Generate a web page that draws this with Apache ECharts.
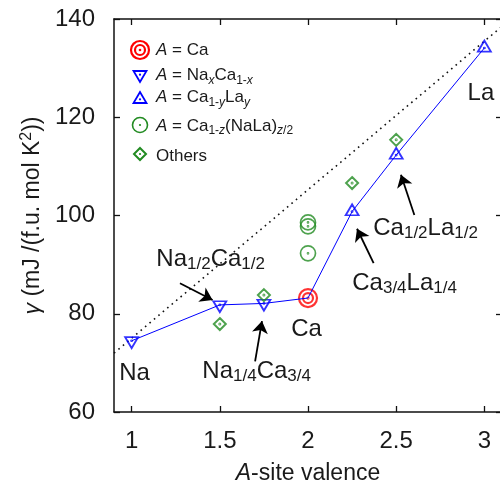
<!DOCTYPE html>
<html><head><meta charset="utf-8">
<script src="https://cdn.jsdelivr.net/npm/echarts@6/dist/echarts.min.js"></script>
<style>html,body{margin:0;padding:0;background:#fff}#c{width:500px;height:482px}</style>
</head><body><div id="c"></div>
<script>
const FONT = '"Liberation Sans", Arial, Helvetica, sans-serif';
const TXT = '#1a1a1a';

// ---- data ----
const naCaX = [1, 1.5, 1.75];
const naCaY = [74.5, 81.8, 82.1];
const caX = [2];
const caY = [83.2];
const caLaX = [2.25, 2.5, 3];
const caLaY = [100.8, 112.3, 134.1];
const caNaLaX = [2, 2, 2];
const caNaLaY = [98.6, 97.8, 92.3];
const othersX = [1.5, 1.75, 2.25, 2.5];
const othersY = [77.9, 83.8, 106.6, 115.4];
const refLineX = [0.9, 3.1];
const refLineY = [72.0, 138.5];
const xTicks = [1, 1.5, 2, 2.5, 3];
const yTicks = [60, 80, 100, 120, 140];

// annotations (text anchored at left/middle, data coords)
const annoText = [
  '{m|Na}',
  '{m|Na}{s|1/2}{m|Ca}{s|1/2}',
  '{m|Na}{s|1/4}{m|Ca}{s|3/4}',
  '{m|Ca}',
  '{m|Ca}{s|3/4}{m|La}{s|1/4}',
  '{m|Ca}{s|1/2}{m|La}{s|1/2}',
  '{m|La}'
];
const annoX = [0.930, 1.140, 1.401, 1.905, 2.251, 2.370, 2.905];
const annoY = [67.8, 91.1, 68.3, 76.8, 86.2, 97.4, 124.9];
// arrows
const arrFromX = [1.274, 1.700, 2.372, 2.603];
const arrFromY = [86.2, 70.3, 90.3, 100.1];
const arrToX = [1.459, 1.739, 2.278, 2.527];
const arrToY = [82.8, 78.5, 97.3, 108.3];

const zip = (xs, ys) => xs.map((x, i) => [x, ys[i]]);

// symbol paths (outline + centre dot)
const dot = (cx, cy) => `M${cx-0.5},${cy} a0.5,0.5 0 1,0 1,0 a0.5,0.5 0 1,0 -1,0`;
const P_DOWN = 'path://M0,0 L13,0 L6.5,11 Z ' + dot(6.5, 3.7);
const P_UP = 'path://M0,11 L6.5,0 L13,11 Z ' + dot(6.5, 7.3);
const P_TARGET = 'path://M1,10 a9,9 0 1,0 18,0 a9,9 0 1,0 -18,0 M5,10 a5,5 0 1,0 10,0 a5,5 0 1,0 -10,0 ' + dot(10, 10);
const P_CIRC = 'path://M0,7.5 a7.5,7.5 0 1,0 15,0 a7.5,7.5 0 1,0 -15,0 ' + dot(7.5, 7.5);
const P_DIAM = 'path://M6,0 L12,6 L6,12 L0,6 Z ' + dot(6, 6);

const RED = '#ff0000', BLUE = '#0000ff', GREEN = '#228b22';
const hollow = (c, w) => ({ color: 'rgba(0,0,0,0)', borderColor: c, borderWidth: w });

const chart = echarts.init(document.getElementById('c'), null, { renderer: 'canvas' });

const legendRows = [
  { y: 50.5, t: '{i|A}{n| = Ca}' },
  { y: 75.5, t: '{i|A}{n| = Na}{si|x}{n|Ca}{s|1-}{si|x}' },
  { y: 97.5, t: '{i|A}{n| = Ca}{s|1-}{si|y}{n|La}{si|y}' },
  { y: 126, t: '{i|A}{n| = Ca}{s|1-}{si|z}{n|(NaLa)}{si|z}{s|/2}' },
  { y: 156, t: '{n|Others}' }
];
const legRich = {
  n: { fontSize: 17, fontFamily: FONT, color: TXT, lineHeight: 22 },
  i: { fontSize: 17, fontFamily: FONT, color: TXT, fontStyle: 'italic', lineHeight: 22 },
  s: { fontSize: 12, fontFamily: FONT, color: TXT, lineHeight: 12, verticalAlign: 'bottom' },
  si: { fontSize: 12, fontFamily: FONT, color: TXT, fontStyle: 'italic', lineHeight: 12, verticalAlign: 'bottom' }
};
const LX = 140;
const graphics = [
  { type: 'circle', shape: { cx: LX, cy: 50, r: 9 }, style: { fill: 'none', stroke: RED, lineWidth: 2.2 } },
  { type: 'circle', shape: { cx: LX, cy: 50, r: 5 }, style: { fill: 'none', stroke: RED, lineWidth: 2.2 } },
  { type: 'circle', shape: { cx: LX, cy: 50, r: 1.3 }, style: { fill: RED } },
  { type: 'polygon', shape: { points: [[LX-6.5, 71], [LX+6.5, 71], [LX, 82]] }, style: { fill: 'none', stroke: BLUE, lineWidth: 1.8 } },
  { type: 'circle', shape: { cx: LX, cy: 74.7, r: 1.1 }, style: { fill: BLUE } },
  { type: 'polygon', shape: { points: [[LX-6.5, 103], [LX+6.5, 103], [LX, 92]] }, style: { fill: 'none', stroke: BLUE, lineWidth: 1.8 } },
  { type: 'circle', shape: { cx: LX, cy: 99.3, r: 1.1 }, style: { fill: BLUE } },
  { type: 'circle', shape: { cx: LX, cy: 125, r: 7.5 }, style: { fill: 'none', stroke: GREEN, lineWidth: 1.6 } },
  { type: 'circle', shape: { cx: LX, cy: 125, r: 1.1 }, style: { fill: GREEN } },
  { type: 'polygon', shape: { points: [[LX, 148], [LX+6, 154], [LX, 160], [LX-6, 154]] }, style: { fill: 'none', stroke: GREEN, lineWidth: 2 } },
  { type: 'circle', shape: { cx: LX, cy: 154, r: 1.1 }, style: { fill: GREEN } }
];
legendRows.forEach(r => graphics.push({
  type: 'text', x: 156, y: r.y,
  style: { text: r.t, rich: legRich, verticalAlign: 'middle', align: 'left', font: '17px ' + FONT, fill: TXT }
}));

const annoRich = {
  m: { fontSize: 24, fontFamily: FONT, color: TXT, lineHeight: 28, textBorderWidth: 0 },
  s: { fontSize: 17, fontFamily: FONT, color: TXT, lineHeight: 16, verticalAlign: 'bottom', textBorderWidth: 0 }
};

const axisCommon = {
  type: 'value',
  axisLine: { show: true, onZero: false, lineStyle: { color: '#111', width: 1.5 } },
  splitLine: { show: false }
};

const option = {
  animation: false,
  backgroundColor: '#fff',
  grid: { left: 114, top: 19, width: 388, height: 393, containLabel: false, outerBoundsMode: 'none' },
  xAxis: [
    Object.assign({}, axisCommon, {
      min: 0.9, max: 3.1, position: 'bottom',
      axisTick: { show: true, inside: true, length: 6, customValues: xTicks, lineStyle: { color: '#111', width: 1.3 } },
      axisLabel: { show: true, customValues: xTicks, margin: 17, fontSize: 24, fontFamily: FONT, color: TXT },
      name: '{i|A}{n|-site valence}', nameLocation: 'middle', nameGap: 50,
      nameTextStyle: { fontSize: 23, fontFamily: FONT, color: TXT, rich: {
        i: { fontSize: 23, fontFamily: FONT, color: TXT, fontStyle: 'italic' },
        n: { fontSize: 23, fontFamily: FONT, color: TXT } } }
    }),
    Object.assign({}, axisCommon, {
      min: 0.9, max: 3.1, position: 'top',
      axisTick: { show: true, inside: true, length: 6, customValues: xTicks, lineStyle: { color: '#111', width: 1.3 } },
      axisLabel: { show: false }
    })
  ],
  yAxis: [
    Object.assign({}, axisCommon, {
      min: 60, max: 140, interval: 20, position: 'left',
      axisTick: { show: true, inside: true, length: 6, customValues: yTicks, lineStyle: { color: '#111', width: 1.3 } },
      axisLabel: { show: true, customValues: yTicks, margin: 19, fontSize: 24, fontFamily: FONT, color: TXT },
      name: '{g|γ}{m| (mJ /(f.u. mol K}{p|2}{m|))}', nameLocation: 'middle', nameGap: 58, nameRotate: 90,
      nameTextStyle: { fontSize: 23, fontFamily: FONT, color: TXT, rich: {
        g: { fontSize: 23, fontFamily: FONT, color: TXT, fontStyle: 'italic', lineHeight: 28 },
        m: { fontSize: 23, fontFamily: FONT, color: TXT, lineHeight: 28 },
        p: { fontSize: 16, fontFamily: FONT, color: TXT, lineHeight: 16, verticalAlign: 'top' } } }
    }),
    Object.assign({}, axisCommon, {
      min: 60, max: 140, interval: 20, position: 'right',
      axisTick: { show: true, inside: true, length: 6, customValues: yTicks, lineStyle: { color: '#111', width: 1.3 } },
      axisLabel: { show: false }
    })
  ],
  series: [
    { type: 'line', name: 'ref', data: zip(refLineX, refLineY), symbol: 'none',
      lineStyle: { color: '#111', width: 1.6, type: [1.6, 4.2] }, z: 1 },
    { type: 'line', name: 'path', data: zip(naCaX.concat(caX, caLaX), naCaY.concat(caY, caLaY)), symbol: 'none',
      lineStyle: { color: BLUE, width: 1 }, z: 3 },
    { type: 'scatter', name: 'Ca', data: zip(caX, caY), symbol: P_TARGET, symbolSize: [18, 18],
      itemStyle: hollow(RED, 2.2), z: 2 },
    { type: 'scatter', name: 'NaCa', data: zip(naCaX, naCaY), symbol: P_DOWN, symbolSize: [13, 11], symbolOffset: [0, 1.8],
      itemStyle: hollow(BLUE, 1.8), z: 4 },
    { type: 'scatter', name: 'CaLa', data: zip(caLaX, caLaY), symbol: P_UP, symbolSize: [13, 11], symbolOffset: [0, -1.8],
      itemStyle: hollow(BLUE, 1.8), z: 4 },
    { type: 'scatter', name: 'CaNaLa', data: zip(caNaLaX, caNaLaY), symbol: P_CIRC, symbolSize: [15, 15],
      itemStyle: hollow(GREEN, 1.7), z: 4 },
    { type: 'scatter', name: 'Others', data: zip(othersX, othersY), symbol: P_DIAM, symbolSize: [12, 12],
      itemStyle: hollow(GREEN, 2), z: 4 },
    { type: 'lines', coordinateSystem: 'cartesian2d', name: 'arrows', z: 5,
      symbol: ['none', 'arrow'], symbolSize: [8, 12],
      lineStyle: { color: '#000', width: 1.8, opacity: 1 },
      data: arrFromX.map((x, i) => ({ coords: [[x, arrFromY[i]], [arrToX[i], arrToY[i]]] })) },
    { type: 'scatter', name: 'anno', symbolSize: 0, z: 6, silent: true,
      data: annoX.map((x, i) => ({ value: [x, annoY[i]], name: annoText[i] })),
      label: { show: true, position: 'right', distance: 0, color: TXT, opacity: 1, textBorderWidth: 0,
        formatter: p => p.name, rich: annoRich } }
  ],
  graphic: graphics
};
chart.setOption(option);
</script></body></html>
